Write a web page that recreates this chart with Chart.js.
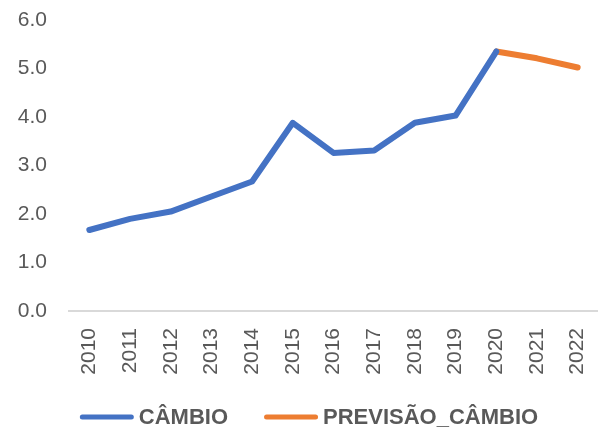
<!DOCTYPE html>
<html>
<head>
<meta charset="utf-8">
<script src="https://cdn.jsdelivr.net/npm/chart.js@4/dist/chart.umd.min.js"></script>
<style>
html,body{margin:0;padding:0;background:#fff;}
#wrap{width:598px;height:432px;}
</style>
</head>
<body>
<div id="wrap"><canvas id="c" width="598" height="432"></canvas></div>
<script>
const years = ['2010','2011','2012','2013','2014','2015','2016','2017','2018','2019','2020','2021','2022'];
const cambio = [1.67, 1.90, 2.05, 2.36, 2.67, 3.88, 3.26, 3.31, 3.88, 4.03, 5.35, null, null];
const previsao = [null, null, null, null, null, null, null, null, null, null, 5.35, 5.21, 5.02];
const yTicks = [0, 1, 2, 3, 4, 5, 6];

const BLUE = '#4472C4', ORANGE = '#ED7D31', TXT = '#595959';
const FONT = "'Liberation Sans', Arial, sans-serif";

const lineLegend = {
  id: 'lineLegend',
  afterDraw(chart) {
    const ctx = chart.ctx;
    const y = 417, lineLen = 54, gap = 5, spacing = 36, cx = 309;
    ctx.save();
    ctx.font = "bold 22px " + FONT;
    const items = chart.data.datasets.map(d => ({label: d.label, color: d.borderColor, w: ctx.measureText(d.label).width}));
    const total = items.reduce((a, it) => a + lineLen + gap + it.w, 0) + spacing * (items.length - 1);
    let x = cx - total / 2;
    items.forEach(it => {
      ctx.strokeStyle = it.color;
      ctx.lineWidth = 5;
      ctx.lineCap = 'round';
      ctx.beginPath();
      ctx.moveTo(x + 2.5, y);
      ctx.lineTo(x + lineLen - 2.5, y);
      ctx.stroke();
      ctx.fillStyle = TXT;
      ctx.textBaseline = 'middle';
      ctx.textAlign = 'left';
      ctx.fillText(it.label, x + lineLen + gap, y + 1);
      x += lineLen + gap + it.w + spacing;
    });
    ctx.restore();
  }
};

new Chart(document.getElementById('c'), {
  type: 'line',
  data: {
    labels: years,
    datasets: [
      {label: 'CÂMBIO', data: cambio, borderColor: BLUE, backgroundColor: BLUE,
       borderWidth: 6, pointRadius: 0, tension: 0, borderCapStyle: 'round', borderJoinStyle: 'round', spanGaps: false},
      {label: 'PREVISÃO_CÂMBIO', data: previsao, borderColor: ORANGE, backgroundColor: ORANGE,
       borderWidth: 6, pointRadius: 0, tension: 0, borderCapStyle: 'round', borderJoinStyle: 'round', spanGaps: false}
    ]
  },
  plugins: [lineLegend],
  options: {
    responsive: false,
    animation: false,
    layout: {padding: {left: 0, right: 0, top: 20, bottom: 0}},
    plugins: {
      tooltip: {enabled: false},
      legend: {display: false}
    },
    scales: {
      x: {
        offset: true,
        grid: {display: false, drawTicks: false},
        border: {display: true, color: '#D9D9D9', width: 2},
        ticks: {font: {family: FONT, size: 21}, color: TXT, minRotation: 90, maxRotation: 90, padding: 17, autoSkip: false},
        afterFit: (s) => { s.paddingLeft = 0; s.paddingRight = 0; s.height = 121; }
      },
      y: {
        min: 0, max: 6,
        afterBuildTicks: (s) => { s.ticks = yTicks.map(v => ({value: v})); },
        grid: {display: false, drawTicks: false},
        border: {display: false},
        ticks: {font: {family: FONT, size: 21}, color: TXT, padding: 22,
                callback: (v) => Number(v).toFixed(1)},
        afterFit: (s) => { s.width = 69; s.paddingTop = 0; s.paddingBottom = 0; }
      }
    }
  }
});
</script>
</body>
</html>
